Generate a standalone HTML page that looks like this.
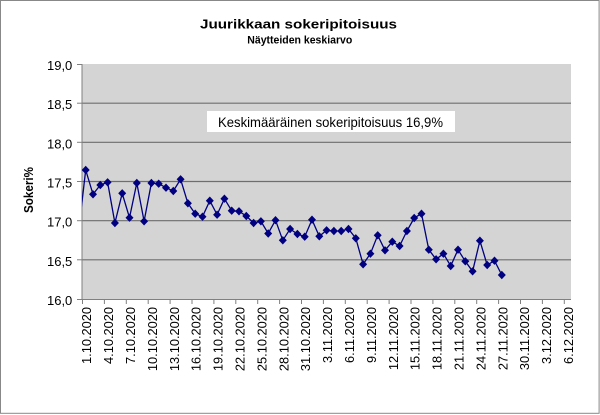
<!DOCTYPE html>
<html><head><meta charset="utf-8">
<style>
html,body{margin:0;padding:0;background:#fff;}
svg{display:block;}
text{font-family:"Liberation Sans",Arial,sans-serif;}
</style></head>
<body>
<svg width="600" height="415" viewBox="0 0 600 415" xmlns="http://www.w3.org/2000/svg">
<defs><clipPath id="pc"><rect x="82" y="64" width="489" height="235"/></clipPath></defs>
<rect x="0" y="0" width="600" height="415" fill="#fff"/>
<rect x="0.5" y="0.5" width="598.6" height="412.8" fill="none" stroke="#888" stroke-width="1"/>
<!-- titles -->
<text x="200" y="28.5" font-size="12.5" font-weight="bold" textLength="197" lengthAdjust="spacingAndGlyphs" fill="#000">Juurikkaan sokeripitoisuus</text>
<text x="247.3" y="43.3" font-size="10.6" font-weight="bold" textLength="105" lengthAdjust="spacingAndGlyphs" fill="#000">Näytteiden keskiarvo</text>
<!-- plot area -->
<rect x="82" y="64" width="489" height="235" fill="#d4d4d4"/>
<g stroke="#6e6e6e" stroke-width="1.2">
<line x1="82" y1="103.2" x2="571" y2="103.2"/>
<line x1="82" y1="142.3" x2="571" y2="142.3"/>
<line x1="82" y1="181.5" x2="571" y2="181.5"/>
<line x1="82" y1="220.7" x2="571" y2="220.7"/>
<line x1="82" y1="259.8" x2="571" y2="259.8"/>
</g>
<!-- axes -->
<g stroke="#808080" stroke-width="1">
<line x1="82" y1="64" x2="82" y2="299.5"/>
<line x1="82" y1="299.5" x2="571" y2="299.5"/>
<line x1="77" y1="64.5" x2="82" y2="64.5"/>
<line x1="77" y1="103.2" x2="82" y2="103.2"/>
<line x1="77" y1="142.3" x2="82" y2="142.3"/>
<line x1="77" y1="181.5" x2="82" y2="181.5"/>
<line x1="77" y1="220.7" x2="82" y2="220.7"/>
<line x1="77" y1="259.8" x2="82" y2="259.8"/>
<line x1="77" y1="299.5" x2="82" y2="299.5"/>
</g>
<g id="xt" stroke="#808080" stroke-width="1"></g>
<!-- y labels -->
<g font-size="13" fill="#000" text-anchor="end">
<text x="72.3" y="70">19,0</text>
<text x="72.3" y="109.2">18,5</text>
<text x="72.3" y="148.3">18,0</text>
<text x="72.3" y="187.5">17,5</text>
<text x="72.3" y="226.7">17,0</text>
<text x="72.3" y="265.8">16,5</text>
<text x="72.3" y="305">16,0</text>
</g>
<text transform="translate(33,190) rotate(-90)" text-anchor="middle" font-size="12.5" font-weight="bold" textLength="46" lengthAdjust="spacingAndGlyphs" fill="#000">Sokeri%</text>
<!-- x ticks & labels -->
<g id="xl" font-size="12.8" fill="#000" text-anchor="end"></g>
<!-- annotation box -->
<rect x="207" y="111" width="248" height="21" fill="#fff"/>
<text x="218" y="127" font-size="14" textLength="225" lengthAdjust="spacingAndGlyphs" fill="#000">Keskimääräinen sokeripitoisuus 16,9%</text>
<!-- series -->
<g clip-path="url(#pc)">
<polyline id="ser" fill="none" stroke="#000080" stroke-width="1.3" points=""/>
</g>
<g id="mk" fill="#000080"></g>
</svg>
<script>
var ys=[170,194.3,185,182.3,223,193.3,217.7,183,221.3,183,183.7,187.7,191,179.3,203.3,213.7,216.7,200.7,214.7,198.7,210.7,211.3,216,223,221.3,233.5,220.2,240.3,229,234,236.7,219.7,236.3,230.3,231,231,229,238.3,264.3,253.7,235.3,250.3,241.7,246,231,218,213.7,249.7,259.3,253.7,266,249.7,261.3,271.3,240.7,265,260.7,275];
var pts=["78.4,233"],mk="";
for(var i=0;i<ys.length;i++){var x=85.7+7.3*i;pts.push(x.toFixed(1)+","+ys[i]);
mk+='<path d="M'+x.toFixed(1)+' '+(ys[i]-4.2)+'l4 4.2l-4 4.2l-4 -4.2z"/>';}
document.getElementById("ser").setAttribute("points",pts.join(" "));
document.getElementById("mk").innerHTML=mk;
var labs=["1.10.2020","4.10.2020","7.10.2020","10.10.2020","13.10.2020","16.10.2020","19.10.2020","22.10.2020","25.10.2020","28.10.2020","31.10.2020","3.11.2020","6.11.2020","9.11.2020","12.11.2020","15.11.2020","18.11.2020","21.11.2020","24.11.2020","27.11.2020","30.11.2020","3.12.2020","6.12.2020"];
var xt="",xl="";
for(var k=0;k<labs.length;k++){var tx=82+21.9*k;
xt+='<line x1="'+(tx+0.5).toFixed(1)+'" y1="299" x2="'+(tx+0.5).toFixed(1)+'" y2="304"/>';
xl+='<text transform="translate('+(tx+9.2).toFixed(1)+',307) rotate(-90)">'+labs[k]+'</text>';}
document.getElementById("xt").innerHTML=xt;
document.getElementById("xl").innerHTML=xl;
</script>
</body></html>
